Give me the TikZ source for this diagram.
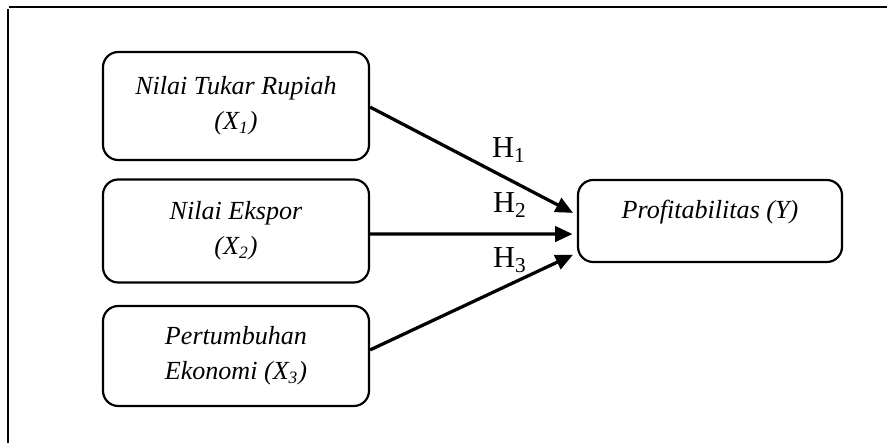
\documentclass[tikz,border=0pt]{standalone}
\usepackage{fontspec}
\setmainfont{Liberation Serif}
\usetikzlibrary{arrows.meta}

\begin{document}
\begin{tikzpicture}[x=0.46pt, y=-0.46pt,
    var-box/.style={draw, line width=1pt, rounded corners=7pt, align=center,
      font=\fontsize{12}{16}\selectfont\itshape, minimum width=266*0.46pt},
    hyp-arrow/.style={line width=1.5pt, -{Triangle[length=8pt, width=7pt]}, shorten >=2pt},
    hyp-label/.style={font=\fontsize{14}{16}\selectfont}]
\useasboundingbox (0,0) rectangle (887,443);
\draw[line width=1.1pt] (9,7) -- (887,7);
\draw[line width=0.8pt] (8,9) -- (8,443);

\node[var-box, minimum height=108*0.46pt] (x1_box) at (236,106) {Nilai Tukar Rupiah\\(X\textsubscript{1})};
\node[var-box, minimum height=103*0.46pt] (x2_box) at (236,231) {Nilai Ekspor\\(X\textsubscript{2})};
\node[var-box, minimum height=100*0.46pt] (x3_box) at (236,356) {Pertumbuhan\\Ekonomi (X\textsubscript{3})};
\node[var-box, minimum width=264*0.46pt, minimum height=82*0.46pt,
  text height=9pt, text depth=11pt] (y_box) at (710,221) {Profitabilitas (Y)};

\draw[hyp-arrow] ([yshift=-0.5pt]x1_box.east) -- ([yshift=2.8pt]y_box.west);
\draw[hyp-arrow] ([yshift=-1.4pt]x2_box.east) -- ([yshift=-6pt]y_box.west);
\draw[hyp-arrow] ([yshift=2.8pt]x3_box.east) -- ([yshift=-14.7pt]y_box.west);

\node[hyp-label] (h1_label) at (509,150) {H\textsubscript{1}};
\node[hyp-label] (h2_label) at (510,205) {H\textsubscript{2}};
\node[hyp-label] (h3_label) at (510,260) {H\textsubscript{3}};
\end{tikzpicture}
\end{document}
